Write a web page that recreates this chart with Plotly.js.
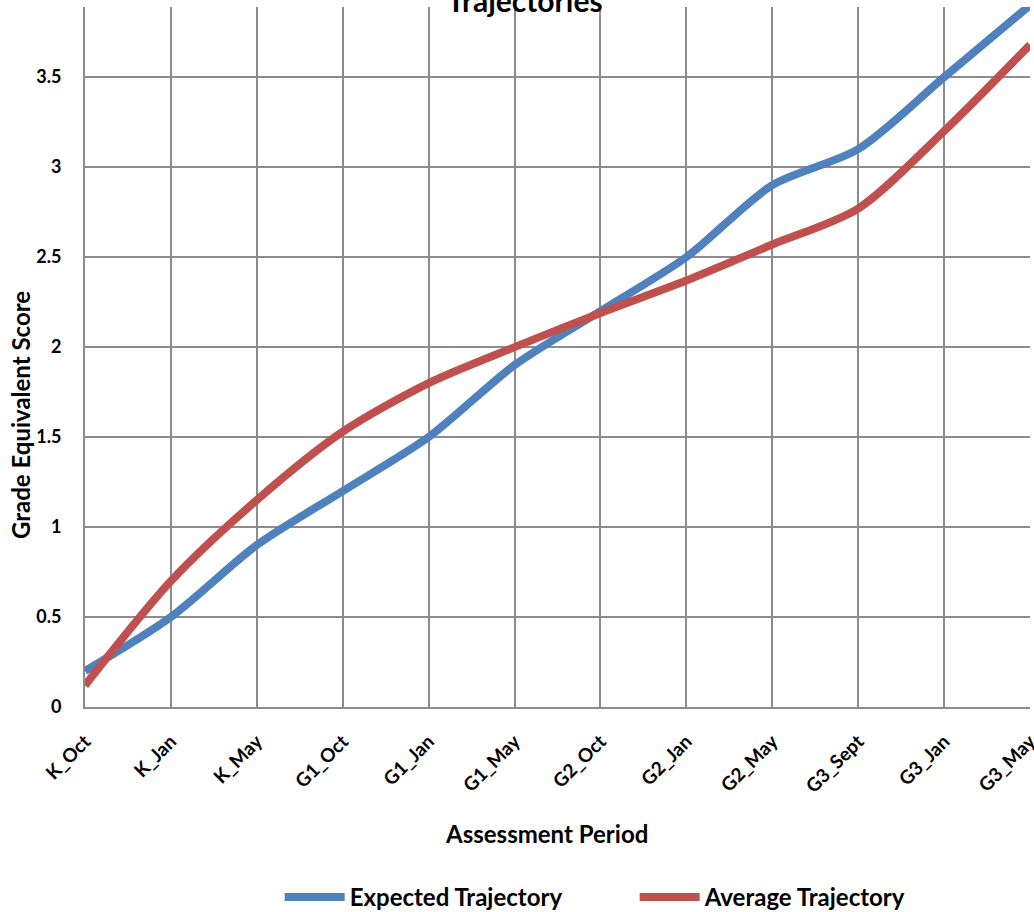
<!DOCTYPE html>
<html>
<head>
<meta charset="utf-8">
<script src="https://cdn.plot.ly/plotly-3.0.1.min.js"></script>
<style>
html,body{margin:0;padding:0;background:#fff;}
#chart{width:1034px;height:912px;}
</style>
</head>
<body>
<div id="chart"></div>
<script>
const periods = ["K_Oct","K_Jan","K_May","G1_Oct","G1_Jan","G1_May","G2_Oct","G2_Jan","G2_May","G3_Sept","G3_Jan","G3_May"];
const expectedTrajectory = [0.2,0.5,0.9,1.2,1.5,1.9,2.2,2.5,2.9,3.1,3.5,3.9];
const averageTrajectory = [0.12,0.7,1.15,1.53,1.8,2.0,2.19,2.37,2.57,2.77,3.2,3.68];

const FONT = "Lato, 'Open Sans', 'Liberation Sans', Arial, sans-serif";

const traces = [
  {x: periods, y: expectedTrajectory, name: "<b>Expected Trajectory</b>", type: "scatter", mode: "lines",
   line: {color: "#4F81BD", width: 8, shape: "spline", smoothing: 0.8}},
  {x: periods, y: averageTrajectory, name: "<b>Average Trajectory</b>", type: "scatter", mode: "lines",
   line: {color: "#C0504D", width: 8, shape: "spline", smoothing: 0.8}}
];

const layout = {
  width: 1034, height: 912,
  paper_bgcolor: "#fff", plot_bgcolor: "#fff",
  margin: {l: 85, r: 4, t: 7, b: 205, autoexpand: false},
  font: {family: FONT, color: "#000", size: 18},
  showlegend: true,
  legend: {orientation: "h", x: 0.206, xanchor: "left", y: -0.272, yanchor: "middle",
           font: {size: 24, family: FONT, color: "#000"}, entrywidth: 280, itemwidth: 60},
  annotations: [
    {text: "<b>Trajectories</b>", xref: "paper", yref: "paper", x: 0.4656, y: 0.9814,
     xanchor: "center", yanchor: "bottom", showarrow: false,
     font: {size: 30, family: FONT, color: "#000"}},
    {text: "<b>Grade Equivalent Score</b>", xref: "paper", yref: "paper", x: -0.0688, y: 0.417,
     xanchor: "center", yanchor: "middle", textangle: -90, showarrow: false,
     font: {size: 24, family: FONT, color: "#000"}},
    {text: "<b>Assessment Period</b>", xref: "paper", yref: "paper", x: 0.488, y: -0.18,
     xanchor: "center", yanchor: "middle", showarrow: false,
     font: {size: 24, family: FONT, color: "#000"}}
  ],
  xaxis: {
    type: "category", range: [0, 11], automargin: false,
    tickangle: -45, tickfont: {size: 19, family: FONT, color: "#000"},
    ticks: "", showgrid: true, gridcolor: "#8c8c8c", gridwidth: 2,
    showline: true, linecolor: "#8c8c8c", linewidth: 2,
    tickprefix: "<b>", ticksuffix: "</b>", ticklabelstandoff: 14
  },
  yaxis: {
    range: [0, 3.89], dtick: 0.5, tick0: 0, automargin: false,
    tickfont: {size: 18, family: FONT, color: "#000"},
    tickprefix: "<b>", ticksuffix: "</b>", ticklabelstandoff: 18,
    ticks: "", showgrid: true, gridcolor: "#8c8c8c", gridwidth: 2,
    showline: true, linecolor: "#8c8c8c", linewidth: 2, zeroline: false
  }
};

Plotly.newPlot("chart", traces, layout, {displayModeBar: false, staticPlot: true});
</script>
</body>
</html>
